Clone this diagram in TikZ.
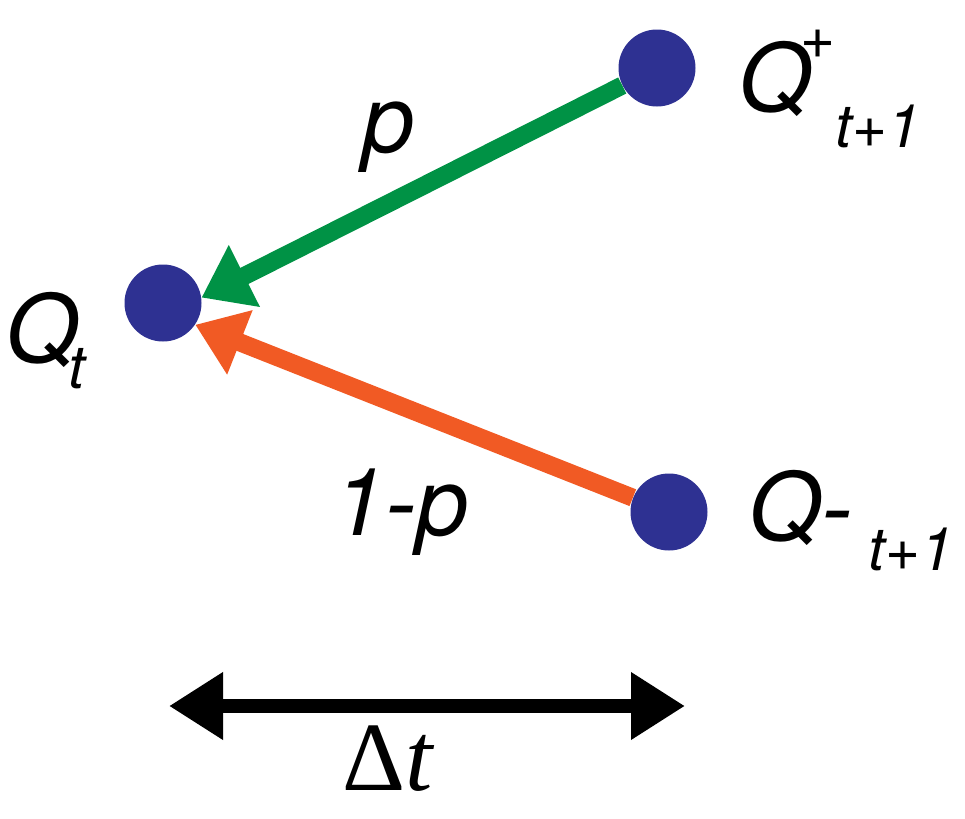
\documentclass[tikz,border=0pt]{standalone}
\usepackage{fontspec}
\setmainfont{TeX Gyre Heros}
\newfontfamily\timesfont{Liberation Serif}
\usetikzlibrary{arrows.meta}
\definecolor{dotblue}{HTML}{2E3192}
\definecolor{upgreen}{HTML}{009245}
\definecolor{downorange}{HTML}{F15A24}
\tikzset{
  dot/.style={circle,fill=dotblue,inner sep=0pt,minimum size=38.5pt},
  link/.style={line width=9pt,-{Triangle[length=24pt,width=33pt]}},
  span/.style={line width=7pt,{Triangle[length=27pt,width=32pt]}-{Triangle[length=27pt,width=32pt]}},
  lbl/.style={inner sep=0pt,anchor=base west,font=\fontsize{47}{50}\selectfont\itshape}}
\newcommand{\lowtxt}[2]{\raisebox{#1}{\fontsize{30}{32}\selectfont #2}}

\begin{document}
\begin{tikzpicture}[x=0.5pt,y=-0.5pt]
\useasboundingbox (0,0) rectangle (965,819);
% states
\node[dot] (Qt) at (163,303) {};
\node[dot] (Qp) at (657,68) {};
\node[dot] (Qm) at (669,512) {};
% transitions
\draw[link,upgreen] (Qp) -- (Qt.8);
\draw[link,downorange] (Qm) -- (Qt.-34);
% labels
\node[lbl] (lQt) at (5,362) {Q\kern-5pt\lowtxt{-13pt}{t}};
\node[lbl] (lQp) at (738,111) {Q\kern-5.5pt\lowtxt{26.5pt}{+}\lowtxt{-18pt}{t+1}};
\node[lbl] (lQm) at (748,540) {Q-\kern8pt\lowtxt{-15pt}{t+1}};
\node[lbl] (lp) at (362,152) {p};
\node[lbl] (lq) at (333,535) {1-p};
% time step
\coordinate (dl) at (169,706);
\coordinate (dr) at (685,706);
\draw[span] (dl) -- (dr);
\node[inner sep=0pt,anchor=base west,font=\timesfont\fontsize{49}{52}\selectfont] (ldt) at (342,790) {Δ\textit{t}};
\end{tikzpicture}
\end{document}
